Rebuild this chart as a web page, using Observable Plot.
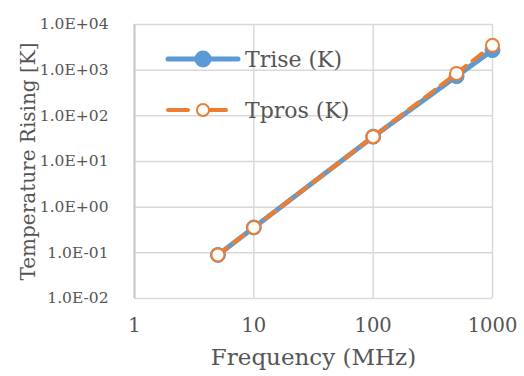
<!DOCTYPE html>
<html>
<head>
<meta charset="utf-8">
<script src="https://cdn.jsdelivr.net/npm/d3@7"></script>
<script src="https://cdn.jsdelivr.net/npm/@observablehq/plot@0.6"></script>
<style>
  html, body { margin: 0; padding: 0; background: #fff; }
  #wrap { position: relative; width: 524px; height: 376px; }
  #legend { position: absolute; left: 0; top: 0; }
</style>
</head>
<body>
<div id="wrap"></div>
<script>
const frequency = [5, 10, 100, 500, 1000];
const trise = [0.09, 0.36, 35, 740, 2750];
const tpros = [0.09, 0.36, 35, 850, 3500];
const xTicks = [1, 10, 100, 1000];
const yTicks = [1e-2, 1e-1, 1e0, 1e1, 1e2, 1e3, 1e4];
const yTickLabels = ["1.0E-02", "1.0E-01", "1.0E+00", "1.0E+01", "1.0E+02", "1.0E+03", "1.0E+04"];
const seriesNames = ["Trise (K)", "Tpros (K)"];
const xLabel = "Frequency (MHz)";
const yLabel = "Temperature Rising [K]";

const blue = "#5B9BD5", orange = "#ED7D31", grid = "#d9d9d9", textColor = "#555555";
const font = "'DejaVu Serif', serif";

const riseData = frequency.map((f, i) => ({f, v: trise[i]}));
const prosData = frequency.map((f, i) => ({f, v: tpros[i]}));

const chart = Plot.plot({
  width: 524, height: 376,
  marginLeft: 134, marginRight: 32, marginTop: 24, marginBottom: 78,
  style: {fontFamily: font, color: textColor, background: "#fff", overflow: "visible"},
  x: {type: "log", domain: [1, 1000]},
  y: {type: "log", domain: [1e-2, 1e4]},
  marks: [
    Plot.gridX(xTicks, {stroke: grid, strokeOpacity: 1, strokeWidth: 1.5}),
    Plot.gridY(yTicks, {stroke: grid, strokeOpacity: 1, strokeWidth: 1.5}),
    Plot.ruleX([1], {stroke: "#c8c8c8", strokeWidth: 2}),
    Plot.axisX(xTicks, {tickSize: 0, tickPadding: 20, fontSize: 19.5, tickFormat: d => String(d), label: null, fill: textColor}),
    Plot.axisY(yTicks, {tickSize: 0, tickPadding: 26, fontSize: 15.5, tickFormat: d => yTickLabels[yTicks.indexOf(d)], label: null, fill: textColor}),
    Plot.text([xLabel], {frameAnchor: "bottom", dy: 59, textAnchor: "middle", lineAnchor: "middle", fontSize: 23, fill: textColor}),
    Plot.text([yLabel], {frameAnchor: "left", dx: -106, rotate: -90, textAnchor: "middle", lineAnchor: "middle", fontSize: 20, fill: textColor}),
    Plot.line(riseData, {x: "f", y: "v", stroke: blue, strokeWidth: 5, strokeLinecap: "round"}),
    Plot.dot(riseData, {x: "f", y: "v", r: 7.5, fill: blue, stroke: blue, strokeWidth: 1}),
    Plot.line(prosData, {x: "f", y: "v", stroke: orange, strokeWidth: 4, strokeDasharray: "12,8"}),
    Plot.dot(prosData, {x: "f", y: "v", r: 6.5, fill: "#fff", stroke: orange, strokeWidth: 2})
  ]
});

const wrap = document.getElementById("wrap");
wrap.appendChild(chart);

// Legend overlay
const lg = d3.create("svg").attr("id", "legend").attr("width", 524).attr("height", 376)
  .style("font-family", font);
const r1 = lg.append("g");
r1.append("line").attr("x1", 168).attr("x2", 238).attr("y1", 59).attr("y2", 59)
  .attr("stroke", blue).attr("stroke-width", 5).attr("stroke-linecap", "round");
r1.append("circle").attr("cx", 203).attr("cy", 59).attr("r", 8.5).attr("fill", blue);
r1.append("text").attr("x", 245).attr("y", 59).attr("dy", "0.35em").attr("font-size", 22)
  .attr("fill", textColor).text(seriesNames[0]);
const r2 = lg.append("g");
r2.append("line").attr("x1", 168).attr("x2", 188).attr("y1", 110).attr("y2", 110)
  .attr("stroke", orange).attr("stroke-width", 4).attr("stroke-linecap", "round");
r2.append("line").attr("x1", 208).attr("x2", 226).attr("y1", 110).attr("y2", 110)
  .attr("stroke", orange).attr("stroke-width", 4).attr("stroke-linecap", "round");
r2.append("circle").attr("cx", 203).attr("cy", 110).attr("r", 6).attr("fill", "#fff")
  .attr("stroke", orange).attr("stroke-width", 2);
r2.append("text").attr("x", 245).attr("y", 110).attr("dy", "0.35em").attr("font-size", 22)
  .attr("fill", textColor).text(seriesNames[1]);
wrap.appendChild(lg.node());
</script>
</body>
</html>
